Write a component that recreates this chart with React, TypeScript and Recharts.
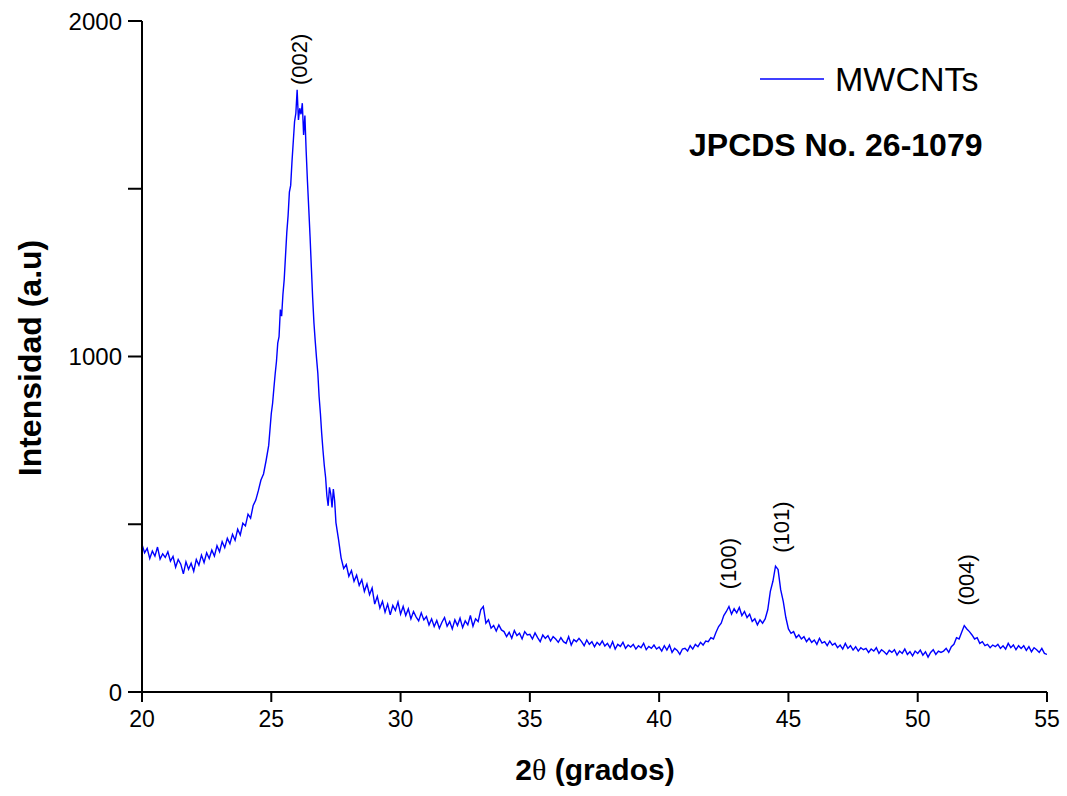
import React from 'react';
import { LineChart, Line, XAxis, YAxis, ReferenceDot } from 'recharts';

// 2θ 20.0 – 24.9, step 0.1
const segA: number[] = [
  440, 415, 428, 398, 420, 405, 432, 396, 412, 401,
  418, 390, 404, 372, 395, 381, 352, 388, 366, 384,
  360, 395, 378, 408, 386, 415, 398, 423, 405, 436,
  418, 448, 430, 458, 442, 470, 452, 485, 468, 503,
  495, 530, 518, 556, 572, 600, 632, 650, 690, 735,
];

// 2θ 25.00 – 27.45, step 0.05 (the (002) peak)
const segB: number[] = [
  830, 860, 905, 948, 985, 1040, 1059, 1140, 1120, 1185,
  1230, 1300, 1370, 1420, 1490, 1510, 1580, 1640, 1700, 1725,
  1795, 1705, 1740, 1722, 1755, 1660, 1718, 1610, 1520, 1440,
  1357, 1265, 1175, 1100, 1045, 995, 950, 880, 830, 770,
  720, 675, 640, 585, 555, 610, 590, 550, 605, 570,
];

// 2θ 27.5 – 55.0, step 0.1
const segC: number[] = [
  505, 455, 400, 368, 380,
  345, 362, 330, 348, 318, 335, 300, 322, 290, 310,
  262, 285, 250, 270, 238, 262, 230, 258, 243, 268,
  232, 255, 228, 248, 218, 240, 224, 212, 236, 215,
  225, 200, 218, 195, 213, 190, 208, 222, 196, 210,
  188, 215, 198, 220, 192, 212, 200, 228, 196, 218,
  210, 245, 255, 205, 215, 190, 198, 182, 200, 185,
  180, 165, 178, 160, 183, 168, 175, 158, 180, 170,
  172, 158, 176, 162, 150, 170, 160, 168, 152, 165,
  158, 148, 162, 150, 145, 165, 140, 156, 150, 160,
  150, 138, 155, 142, 150, 135, 148, 140, 152, 137,
  145, 132, 150, 128, 142, 136, 148, 130, 140, 134,
  142, 128, 138, 132, 145, 126, 136, 130, 140, 128,
  134, 122, 138, 125, 140, 118, 130, 124, 112, 128,
  130, 122, 138, 128, 142, 135, 148, 140, 152, 150,
  162, 158, 178, 195, 205, 228, 240, 255, 232, 248,
  236, 252, 228, 240, 222, 232, 210, 218, 200, 215,
  205, 218, 245, 300, 330, 375, 365, 305, 270, 222,
  188, 175, 180, 162, 170, 158, 165, 150, 160, 148,
  155, 142, 160, 146, 150, 138, 152, 140, 145, 132,
  140, 128, 145, 130, 138, 125, 135, 122, 132, 126,
  130, 118, 128, 122, 132, 115, 126, 120, 112, 124,
  118, 126, 110, 122, 115, 128, 112, 120, 108, 122,
  115, 125, 110, 120, 104, 118, 126, 112, 122, 118,
  122, 130, 118, 135, 142, 162, 158, 178, 198, 188,
  180, 170, 158, 162, 145, 150, 138, 142, 132, 140,
  135, 142, 130, 138, 128, 145, 132, 140, 126, 138,
  130, 138, 124, 135, 120, 132, 126, 118, 130, 115,
  112,
];

const xTicks = [20, 25, 30, 35, 40, 45, 50, 55];
const yTicks = [0, 500, 1000, 1500, 2000];

// Miller index labels: position of the label's bottom end
const peakLabels = [
  { angle: 26.1, intensity: 1809, text: '(002)' },
  { angle: 42.68, intensity: 306, text: '(100)' },
  { angle: 44.75, intensity: 415, text: '(101)' },
  { angle: 51.9, intensity: 258, text: '(004)' },
];

const seg = (start: number, step: number, vals: number[]) =>
  vals.map((v, i) => ({ angle: Number((start + i * step).toFixed(2)), intensity: v }));

const data = [...seg(20, 0.1, segA), ...seg(25, 0.05, segB), ...seg(27.5, 0.1, segC)];

const FONT = '"Liberation Sans", Arial, sans-serif';

const PeakLabel = (props: any) => {
  const { viewBox, text } = props;
  const cx = viewBox.x + viewBox.width / 2;
  const cy = viewBox.y + viewBox.height / 2;
  return (
    <text
      x={cx}
      y={cy}
      transform={`rotate(-90 ${cx} ${cy})`}
      textAnchor="start"
      dominantBaseline="central"
      fontFamily={FONT}
      fontSize={22}
      fill="#000"
    >
      {text}
    </text>
  );
};

export default function App() {
  return (
    <div style={{ position: 'absolute', left: 0, top: 0, width: 1067, height: 796, background: '#fff' }}>
      <LineChart width={1067} height={796} data={data} margin={{ top: 21, right: 20, bottom: 44, left: 62 }}>
        <XAxis
          dataKey="angle"
          type="number"
          domain={[20, 55]}
          ticks={xTicks}
          allowDataOverflow
          height={60}
          tickSize={10}
          tickMargin={9}
          axisLine={{ stroke: '#000', strokeWidth: 2 }}
          tickLine={{ stroke: '#000', strokeWidth: 2 }}
          tick={{ fill: '#000', fontSize: 23, fontFamily: FONT }}
        />
        <YAxis
          type="number"
          domain={[0, 2000]}
          ticks={yTicks}
          width={80}
          tickSize={14}
          tickMargin={6}
          tickFormatter={(v: number) => (v % 1000 === 0 ? String(v) : '')}
          axisLine={{ stroke: '#000', strokeWidth: 2 }}
          tickLine={{ stroke: '#000', strokeWidth: 2 }}
          tick={{ fill: '#000', fontSize: 24, fontFamily: FONT }}
        />
        <Line
          type="linear"
          dataKey="intensity"
          name="MWCNTs"
          stroke="#0000ff"
          strokeWidth={1.4}
          dot={false}
          isAnimationActive={false}
        />
        {peakLabels.map((p) => (
          <ReferenceDot
            key={p.text}
            x={p.angle}
            y={p.intensity}
            r={1}
            fill="none"
            stroke="none"
            label={<PeakLabel text={p.text} />}
          />
        ))}
      </LineChart>
      {/* legend */}
      <div style={{ position: 'absolute', left: 760, top: 58, display: 'flex', alignItems: 'center', fontFamily: FONT }}>
        <svg width={66} height={4} style={{ marginRight: 9 }}>
          <line x1={0} y1={2} x2={64} y2={2} stroke="#0000ff" strokeWidth={1.5} />
        </svg>
        <span style={{ fontSize: 34, color: '#000', lineHeight: '42px' }}>MWCNTs</span>
      </div>
      <div
        style={{
          position: 'absolute',
          left: 689,
          top: 127,
          fontFamily: FONT,
          fontWeight: 'bold',
          fontSize: 32,
          color: '#000',
          whiteSpace: 'nowrap',
        }}
      >
        JPCDS No. 26-1079
      </div>
      <div
        style={{
          position: 'absolute',
          left: 0,
          width: 1067,
          top: 753,
          textAlign: 'center',
          paddingLeft: 123,
          boxSizing: 'border-box',
          fontFamily: FONT,
          fontWeight: 'bold',
          fontSize: 30,
          color: '#000',
        }}
      >
        2<span style={{ fontFamily: '"Liberation Serif", serif', fontWeight: 'normal' }}>θ</span> (grados)
      </div>
      <div
        style={{
          position: 'absolute',
          left: 30,
          top: 358,
          transform: 'translate(-50%, -50%) rotate(-90deg)',
          fontFamily: FONT,
          fontWeight: 'bold',
          fontSize: 32,
          color: '#000',
          whiteSpace: 'nowrap',
        }}
      >
        Intensidad (a.u)
      </div>
    </div>
  );
}
